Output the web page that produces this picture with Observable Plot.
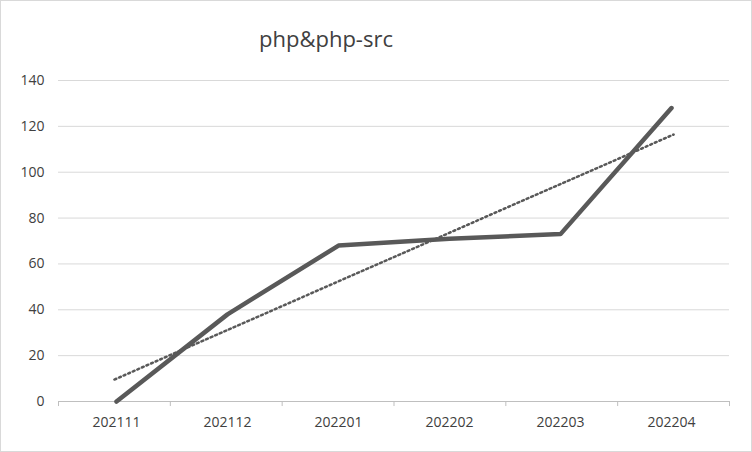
<!DOCTYPE html>
<html>
<head>
<meta charset="utf-8">
<script src="https://cdn.jsdelivr.net/npm/d3@7"></script>
<script src="https://cdn.jsdelivr.net/npm/@observablehq/plot@0.6"></script>
<style>
  body { margin: 0; background: #fff; font-family: "Open Sans", Calibri, sans-serif; }
  #chart { width: 750px; height: 450px; border: 1px solid #d9d9d9; position: relative; }
  #title { position: absolute; left: 0; width: 650px; top: 22px; text-align: center; font-size: 22px; color: #404040; }
  #plot { position: absolute; top: 59px; left: 0; }
</style>
</head>
<body>
<div id="chart">
  <div id="title">php&amp;php-src</div>
  <div id="plot"></div>
</div>
<script>
const months = ["202111", "202112", "202201", "202202", "202203", "202204"];
const counts = [0, 38, 68, 71, 73, 128];
const yTicks = [0, 20, 40, 60, 80, 100, 120, 140];

const data = months.map((m, i) => ({ month: m, idx: i, count: counts[i] }));
const bounds = d3.range(-0.5, months.length, 1);

const plot = Plot.plot({
  width: 750,
  height: 390,
  marginLeft: 57,
  marginRight: 22,
  marginTop: 20,
  marginBottom: 49,
  style: { fontFamily: "Open Sans, sans-serif", fontSize: "14px", color: "#404040" },
  x: { type: "point", domain: months, padding: 0.5, label: null, tickSize: 0, tickPadding: 16 },
  y: { domain: [0, 140], ticks: yTicks, label: null, tickSize: 0, tickPadding: 14 },
  marks: [
    Plot.gridY(yTicks, { stroke: "#d9d9d9", strokeOpacity: 1 }),
    Plot.ruleY([0], { stroke: "#bfbfbf" }),
    Plot.line(data, { x: "month", y: "count", stroke: "#595959", strokeWidth: 4.5 })
  ]
});
document.getElementById("plot").append(plot);

// trendline + category boundary ticks on a linear overlay aligned with the point scale
const trend = Plot.plot({
  width: 750, height: 390, marginLeft: 57, marginRight: 22, marginTop: 20, marginBottom: 49,
  x: { domain: [-0.5, 5.5], axis: null },
  y: { domain: [0, 140], axis: null },
  marks: [
    Plot.ruleX(bounds, { y1: 0, y2: -2.2, stroke: "#bfbfbf" }),
    Plot.linearRegressionY(data, { x: "idx", y: "count", ci: 0, stroke: "#595959", strokeWidth: 2.5, strokeDasharray: "2,3" })
  ]
});
trend.style.position = "absolute";
trend.style.left = "0";
trend.style.top = "0";
trend.style.background = "transparent";
trend.style.overflow = "visible";
document.getElementById("plot").append(trend);
</script>
</body>
</html>
